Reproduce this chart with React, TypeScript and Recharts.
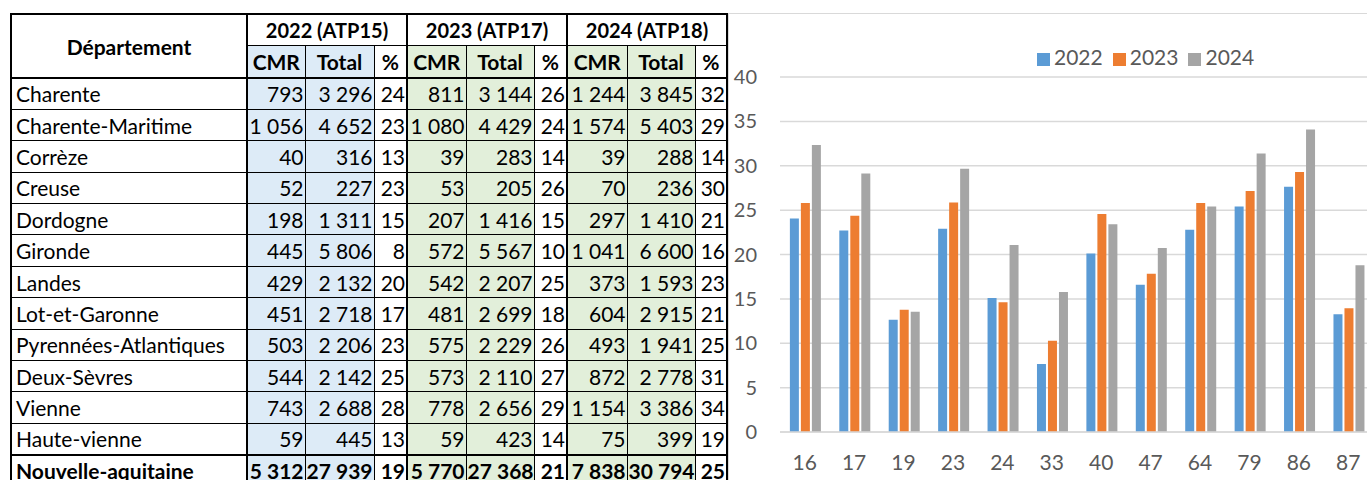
import React from 'react';
import { BarChart, Bar, XAxis, YAxis, CartesianGrid, Legend } from 'recharts';

// table data
const departements = [
  'Charente', 'Charente-Maritime', 'Corrèze', 'Creuse', 'Dordogne', 'Gironde', 'Landes',
  'Lot-et-Garonne', 'Pyrennées-Atlantiques', 'Deux-Sèvres', 'Vienne', 'Haute-vienne', 'Nouvelle-aquitaine',
];
const cmr2022 = [793, 1056, 40, 52, 198, 445, 429, 451, 503, 544, 743, 59, 5312];
const total2022 = [3296, 4652, 316, 227, 1311, 5806, 2132, 2718, 2206, 2142, 2688, 445, 27939];
const pct2022 = [24, 23, 13, 23, 15, 8, 20, 17, 23, 25, 28, 13, 19];
const cmr2023 = [811, 1080, 39, 53, 207, 572, 542, 481, 575, 573, 778, 59, 5770];
const total2023 = [3144, 4429, 283, 205, 1416, 5567, 2207, 2699, 2229, 2110, 2656, 423, 27368];
const pct2023 = [26, 24, 14, 26, 15, 10, 25, 18, 26, 27, 29, 14, 21];
const cmr2024 = [1244, 1574, 39, 70, 297, 1041, 373, 604, 493, 872, 1154, 75, 7838];
const total2024 = [3845, 5403, 288, 236, 1410, 6600, 1593, 2915, 1941, 2778, 3386, 399, 30794];
const pct2024 = [32, 29, 14, 30, 21, 16, 23, 21, 25, 31, 34, 19, 25];

const yearHeaders = ['2022 (ATP15)', '2023 (ATP17)', '2024 (ATP18)'];

// chart data
const codes = ['16', '17', '19', '23', '24', '33', '40', '47', '64', '79', '86', '87'];
const chart2022 = [24.06, 22.7, 12.66, 22.91, 15.1, 7.66, 20.12, 16.59, 22.8, 25.4, 27.64, 13.26];
const chart2023 = [25.8, 24.38, 13.78, 25.85, 14.62, 10.27, 24.56, 17.82, 25.8, 27.16, 29.29, 13.95];
const chart2024 = [32.35, 29.13, 13.54, 29.66, 21.06, 15.77, 23.42, 20.72, 25.4, 31.39, 34.08, 18.8];
const yTicks = [0, 5, 10, 15, 20, 25, 30, 35, 40];

const chartData = codes.map((c, i) => ({
  code: c,
  '2022': chart2022[i],
  '2023': chart2023[i],
  '2024': chart2024[i],
}));

const FONT = 'Lato, "Noto Sans", sans-serif';
const BLUE_BG = '#DDEBF7';
const GREEN_BG = '#E2EFDA';
const colWidths = [236, 58, 69, 33, 59, 68, 33, 60, 68, 32];

const fmt = (n: number) => String(n).replace(/\B(?=(\d{3})+(?!\d))/g, ' ');

const thin = '1px solid #000';
const thick = '2px solid #000';

function DataTable() {
  const groups = [
    [cmr2022, total2022, pct2022, BLUE_BG],
    [cmr2023, total2023, pct2023, GREEN_BG],
    [cmr2024, total2024, pct2024, GREEN_BG],
  ] as const;

  const base: React.CSSProperties = {
    borderTop: thin,
    borderBottom: thin,
    borderLeft: thin,
    borderRight: thin,
    padding: '0 3px',
    whiteSpace: 'nowrap',
    overflow: 'hidden',
  };

  return (
    <table
      style={{
        position: 'absolute',
        left: 10,
        top: 13,
        borderCollapse: 'collapse',
        tableLayout: 'fixed',
        width: colWidths.reduce((a, b) => a + b, 0),
        fontFamily: FONT,
        fontSize: 21,
        color: '#000',
        lineHeight: 1,
      }}
    >
      <colgroup>
        {colWidths.map((w, i) => (
          <col key={i} style={{ width: w }} />
        ))}
      </colgroup>
      <tbody>
        <tr style={{ height: 31 }}>
          <td
            rowSpan={2}
            style={{ ...base, border: thick, borderBottom: thick, textAlign: 'center', fontWeight: 700 }}
          >
            Département
          </td>
          {yearHeaders.map((h) => (
            <td
              key={h}
              colSpan={3}
              style={{ ...base, borderTop: thick, borderLeft: thick, borderRight: thick, textAlign: 'center', fontWeight: 700, fontSize: 20 }}
            >
              {h}
            </td>
          ))}
        </tr>
        <tr style={{ height: 33 }}>
          {groups.map((g, gi) =>
            ['CMR', 'Total', '%'].map((label, ci) => (
              <td
                key={`${gi}-${ci}`}
                style={{
                  ...base,
                  borderBottom: thick,
                  borderLeft: ci === 0 ? thick : thin,
                  borderRight: ci === 2 ? thick : thin,
                  background: ci < 2 ? g[3] : '#fff',
                  textAlign: 'center',
                  fontWeight: 700,
                  padding: 0,
                }}
              >
                {label}
              </td>
            ))
          )}
        </tr>
        {departements.map((d, ri) => {
          const last = ri === departements.length - 1;
          return (
            <tr key={d} style={{ height: 31.4 }}>
              <td
                style={{
                  ...base,
                  borderLeft: thick,
                  borderRight: thick,
                  borderTop: last ? thick : thin,
                  paddingLeft: 4,
                  fontWeight: last ? 700 : 400,
                }}
              >
                {d}
              </td>
              {groups.map((g, gi) =>
                [g[0][ri], g[1][ri], g[2][ri]].map((v, ci) => (
                  <td
                    key={`${gi}-${ci}`}
                    style={{
                      ...base,
                      borderTop: last ? thick : thin,
                      borderLeft: ci === 0 ? thick : thin,
                      borderRight: ci === 2 ? thick : thin,
                      background: ci < 2 ? g[3] : '#fff',
                      textAlign: 'right',
                      padding: '0 1px',
                      fontWeight: last ? 700 : 400,
                    }}
                  >
                    {fmt(v as number)}
                  </td>
                ))
              )}
            </tr>
          );
        })}
      </tbody>
    </table>
  );
}

export default function App() {
  return (
    <div
      style={{
        position: 'absolute',
        left: 0,
        top: 0,
        width: 1367,
        height: 480,
        overflow: 'hidden',
        background: '#fff',
      }}
    >
      <DataTable />
      <div
        style={{
          position: 'absolute',
          left: 728,
          top: 13,
          width: 660,
          height: 467,
          borderTop: '1px solid #D9D9D9',
          borderLeft: '1px solid #D9D9D9',
          background: '#fff',
        }}
      >
        <BarChart
          width={644}
          height={466}
          data={chartData}
          margin={{ top: 38, right: 0, left: 0, bottom: 0 }}
          barCategoryGap="20%"
          barGap={2}
          style={{ fontFamily: FONT }}
        >
          <CartesianGrid vertical={false} stroke="#D9D9D9" strokeWidth={1.5} />
          <XAxis
            dataKey="code"
            height={48}
            tickLine={false}
            tickSize={0}
            tickMargin={23}
            axisLine={{ stroke: '#D9D9D9', strokeWidth: 1.5 }}
            tick={{ fill: '#595959', fontSize: 21 }}
            interval={0}
          />
          <YAxis
            width={51}
            domain={[0, 40]}
            ticks={yTicks}
            tickLine={false}
            tickSize={0}
            axisLine={false}
            tickMargin={23}
            tick={{ fill: '#595959', fontSize: 20 }}
          />
          <Legend
            verticalAlign="top"
            align="left"
            iconType="square"
            iconSize={13}
            wrapperStyle={{ left: 308, top: 30, width: 260, fontSize: 21, color: '#595959' }}
            formatter={(value) => <span style={{ color: '#595959' }}>{value}</span>}
          />
          <Bar dataKey="2022" fill="#5B9BD5" isAnimationActive={false} />
          <Bar dataKey="2023" fill="#ED7D31" isAnimationActive={false} />
          <Bar dataKey="2024" fill="#A5A5A5" isAnimationActive={false} />
        </BarChart>
      </div>
    </div>
  );
}
